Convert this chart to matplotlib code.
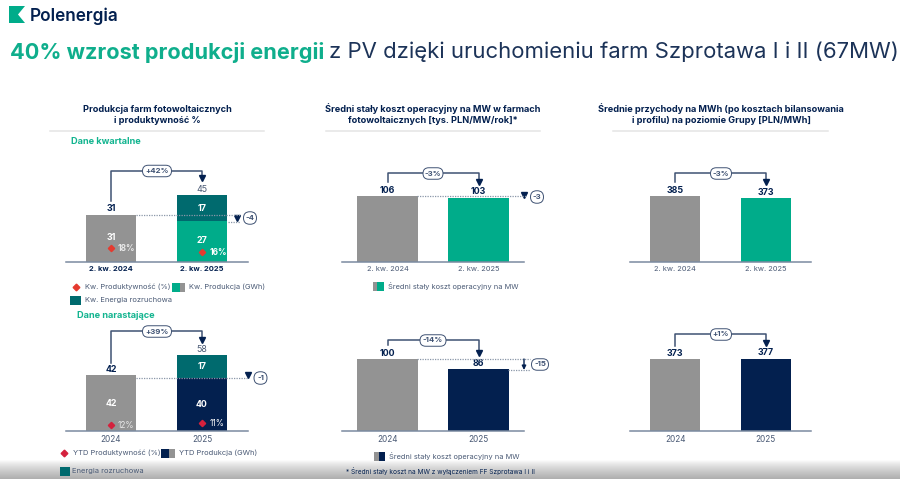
import numpy as np
import matplotlib
matplotlib.use("Agg")
import matplotlib.pyplot as plt
from matplotlib.patches import Rectangle, FancyBboxPatch, Polygon
from matplotlib.transforms import blended_transform_factory

plt.rcParams['font.family'] = ['Inter', 'DejaVu Sans']

GREEN = "#00ac8a"
TEAL = "#006a6e"
NAVY = "#03204f"
GRAY = "#939393"
LINE = "#3f5273"
TEXT = "#4a5a75"

# values
labels_q = ["2. kw. 2024", "2. kw. 2025"]
labels_y = ["2024", "2025"]
prod_q_base = [31, 27]
prod_q_start = [0, 17]
prod_q_total = [31, 45]
prod_y_base = [42, 40]
prod_y_start = [0, 17]
prod_y_total = [42, 58]
cost_q = [106, 103]
cost_y = [100, 86]
rev_q = [385, 373]
rev_y = [373, 377]

W, H = 900, 479
fig = plt.figure(figsize=(W / 100, H / 100), dpi=100)

# full figure layer in pixel coordinates for headings and legends
page = fig.add_axes([0, 0, 1, 1], zorder=5)
page.set_xlim(0, W)
page.set_ylim(H, 0)
page.axis("off")
page.patch.set_alpha(0)

# grey fade at the bottom of the screenshot
back = fig.add_axes([0, 0, 1, 1], zorder=0)
back.axis("off")
fade = 1 - 0.32 * np.linspace(0, 1, 100).reshape(-1, 1) ** 0.8
back.imshow(fade, extent=(0, W, 0, 19), cmap="gray", vmin=0, vmax=1, aspect="auto")
back.set_xlim(0, W)
back.set_ylim(0, H)


def panel(x0, x1, base, scale, top=130):
    # x: the two bars sit at 0 and 1, axis is 2 units plus a margin
    ax = fig.add_axes([x0 / W, 1 - base / H, (x1 - x0) / W, (base - top) / H], zorder=2)
    ax.set_ylim(0, (base - top) / scale)
    ax.set_xlim(-0.5, 1.5)
    ax.patch.set_alpha(0)
    for s in ["top", "left", "right"]:
        ax.spines[s].set_visible(False)
    ax.spines["bottom"].set_color("#7b8aa0")
    ax.spines["bottom"].set_linewidth(1.1)
    ax.set_yticks([])
    ax.set_xticks([0, 1])
    ax.tick_params(length=0, pad=3)
    return ax


def ticks(ax, names, bold=False, size=5.4):
    ax.set_xticklabels(names, fontsize=size, color=NAVY if bold else TEXT,
                       fontweight="bold" if bold else "normal")


def pill(x, y, w, h, txt, size=5.6):
    page.add_patch(FancyBboxPatch((x - w / 2, y - h / 2), w, h,
                                  boxstyle=f"round,pad=0,rounding_size={h / 2}", fc="white",
                                  ec=LINE, lw=0.7, zorder=6))
    page.text(x, y, txt, ha="center", va="center", fontsize=size, color=LINE,
              fontweight="bold", zorder=7)


def bracket(ax, y_start, y_top, y_arrow, pill_x, pill_w, txt):
    # x in bar units, y in page pixels
    tr = blended_transform_factory(ax.transData, page.transData)
    ax.plot([0, 0, 1, 1], [y_start, y_top, y_top, y_arrow - 4], transform=tr, color=LINE,
            lw=1.1, clip_on=False, solid_joinstyle="round", zorder=4)
    ax.plot([1], [y_arrow - 2], transform=tr, marker="v", ms=4.5, color=NAVY, clip_on=False, zorder=4)
    pill(pill_x, y_top + 0.5, pill_w, 11.5, txt)


def dots(x0, x1, y):
    page.plot([x0, x1], [y, y], color="#8a97a8", lw=0.9, ls=(0, (1, 1)), zorder=3)


def swatch(x0, x1, y, c1, c2=None, xm=None, h=9):
    page.add_patch(Rectangle((x0, y - h / 2), (xm or x1) - x0, h, fc=c1, ec="none"))
    if c2:
        page.add_patch(Rectangle((xm, y - h / 2), x1 - xm, h, fc=c2, ec="none"))


def leg_text(x, y, txt, size=5.4):
    page.text(x, y, txt, ha="left", va="center", fontsize=size, color=TEXT)


def val(ax, i, v, txt, bold=True, pad=1):
    ax.annotate(txt, (i, v), xytext=(0, pad), textcoords="offset points", ha="center", va="bottom",
                fontsize=6.4, color=NAVY if bold else TEXT, fontweight="bold" if bold else "normal",
                annotation_clip=False)


def inner(ax, i, y, txt):
    ax.text(i, y, txt, ha="center", va="center", fontsize=6.4, color="white", fontweight="bold", zorder=4)


# header
page.add_patch(Polygon([(9, 6), (25, 6), (18, 14.5), (25, 23), (9, 23)], fc="#00ac8a", ec="none"))
page.text(30, 16.5, "Polenergia", fontsize=12.4, fontweight="semibold", color=NAVY, va="center")
t1 = page.text(10, 52, "40% wzrost produkcji energii", fontsize=15.6, fontweight="bold", color="#0fae8c", va="center")
fig.canvas.draw()
ext = t1.get_window_extent()
page.text(ext.x1 + 5, 52, "z PV dzięki uruchomieniu farm Szprotawa I i II (67MW)", fontsize=15.9,
          color="#1c3358", va="center")

# column headings
heads = [(157, "Produkcja farm fotowoltaicznych", "i produktywność %", 50, 264),
         (433, "Średni stały koszt operacyjny na MW w farmach", "fotowoltaicznych [tys. PLN/MW/rok]*", 326, 540),
         (721, "Średnie przychody na MWh (po kosztach bilansowania", "i profilu) na poziomie Grupy [PLN/MWh]", 613, 828)]
for cx, l1, l2, a, b in heads:
    page.text(cx, 109, l1, ha="center", va="center", fontsize=6.6, fontweight="bold", color=NAVY)
    page.text(cx, 120, l2, ha="center", va="center", fontsize=6.6, fontweight="bold", color=NAVY)
    page.plot([a, b], [131, 131], color="#e4e4e4", lw=1.1)

page.text(71, 141, "Dane kwartalne", fontsize=6.6, fontweight="bold", color="#12b48f", va="center")
page.text(77, 316, "Dane narastające", fontsize=6.6, fontweight="bold", color="#12b48f", va="center")

# production, quarterly
ax = panel(65.5, 247.5, 262, 1.52)
ax.bar([0, 1], prod_q_base, width=0.55, color=[GRAY, GREEN])
ax.bar([1], prod_q_start[1], bottom=prod_q_base[1], width=0.55, color=TEAL)
ticks(ax, labels_q, bold=True)
val(ax, 0, prod_q_base[0], str(prod_q_total[0]))
val(ax, 1, prod_q_base[1] + prod_q_start[1], str(prod_q_total[1]), bold=False)
inner(ax, 0, 16, str(prod_q_base[0]))
inner(ax, 1, 14, str(prod_q_base[1]))
inner(ax, 1, prod_q_base[1] + prod_q_start[1] / 2, str(prod_q_start[1]))
ax.plot([0, 1], [9.2, 6.6], ls="none", marker="D", ms=3.2, color="#e53a2f", zorder=4)
page.text(126, 248, "18%", color="#e8e8e8", fontsize=6, fontweight="bold", ha="center", va="center")
page.text(218, 252, "16%", color="white", fontsize=6, fontweight="bold", ha="center", va="center")
bracket(ax, 201, 170.5, 180, 157, 29, "+42%")
dots(136, 240, 215)
dots(228, 240, 221.5)
page.plot([237], [217.5], marker="v", ms=4.5, color=NAVY)
pill(250, 218, 13, 12.5, "-4")
page.plot([76], [287], marker="D", ms=3.4, color="#e53a2f")
leg_text(85, 287, "Kw. Produktywność (%)")
swatch(172, 185, 287, GREEN, GRAY, 180)
leg_text(189, 287, "Kw. Produkcja (GWh)")
swatch(70, 81, 300, TEAL)
leg_text(85, 300, "Kw. Energia rozruchowa")

# production, cumulative
ax = panel(65.5, 247.5, 431, 1.33, top=300)
ax.bar([0, 1], prod_y_base, width=0.55, color=[GRAY, NAVY])
ax.bar([1], prod_y_start[1], bottom=prod_y_base[1], width=0.55, color=TEAL)
ticks(ax, labels_y, size=5.9)
val(ax, 0, prod_y_base[0], str(prod_y_total[0]))
val(ax, 1, prod_y_base[1] + prod_y_start[1], str(prod_y_total[1]), bold=False)
inner(ax, 0, 21, str(prod_y_base[0]))
inner(ax, 1, 20, str(prod_y_base[1]))
inner(ax, 1, prod_y_base[1] + prod_y_start[1] / 2, str(prod_y_start[1]))
ax.plot([0, 1], [4.7, 6], ls="none", marker="D", ms=3.2, color="#d4213d", zorder=4)
page.text(126, 425, "12%", color="#e8e8e8", fontsize=6, ha="center", va="center")
page.text(217, 423, "11%", color="white", fontsize=6, ha="center", va="center")
bracket(ax, 363, 331, 342, 157, 29, "+39%")
dots(136, 248, 377.5)
page.plot([247.5], [375], marker="v", ms=4.5, color=NAVY)
pill(260.5, 378, 13, 12.5, "-1")
page.plot([64], [453], marker="D", ms=3.4, color="#d4213d")
leg_text(73, 453, "YTD Produktywność (%)")
swatch(161, 175, 453, NAVY, GRAY, 169)
leg_text(179, 453, "YTD Produkcja (GWh)")
swatch(60, 70, 471, TEAL)
leg_text(72, 471, "Energia rozruchowa")

# fixed cost, quarterly
ax = panel(342, 524, 262, 66 / cost_q[0])
ax.bar([0, 1], cost_q, width=0.66, color=[GRAY, GREEN])
ticks(ax, labels_q)
val(ax, 0, cost_q[0], str(cost_q[0]))
val(ax, 1, cost_q[1], str(cost_q[1]))
bracket(ax, 182, 173, 184, 433, 20, "-3%")
dots(417, 526, 196)
page.plot([524], [195], marker="v", ms=4.5, color=NAVY)
pill(537, 197, 13, 12.5, "-3")
swatch(373, 384, 286, GRAY, GREEN, 377)
leg_text(388, 286, "Średni stały koszt operacyjny na MW", size=5.3)

# fixed cost, cumulative
ax = panel(342, 524, 431, 72 / cost_y[0], top=300)
ax.bar([0, 1], cost_y, width=0.66, color=[GRAY, NAVY])
ticks(ax, labels_y, size=5.9)
val(ax, 0, cost_y[0], str(cost_y[0]))
val(ax, 1, cost_y[1], str(cost_y[1]))
bracket(ax, 345, 340, 355, 433, 26, "-14%")
dots(417, 530, 359)
dots(508, 530, 370)
page.annotate("", xy=(524, 370), xytext=(524, 359), arrowprops=dict(arrowstyle="-|>", color=NAVY, lw=1, mutation_scale=6, shrinkA=0, shrinkB=0))
pill(540, 364.5, 17, 11.5, "-15")
swatch(374, 385, 456, GRAY, NAVY, 379)
leg_text(389, 456, "Średni stały koszt operacyjny na MW", size=5.3)
page.text(346, 471, "* Średni stały koszt na MW z wyłączeniem FF Szprotawa I i II", fontsize=4.7, color=NAVY, va="center")

# revenue, quarterly
ax = panel(630, 811, 262, 66 / rev_q[0])
ax.bar([0, 1], rev_q, width=0.55, color=[GRAY, GREEN])
ticks(ax, labels_q)
val(ax, 0, rev_q[0], str(rev_q[0]))
val(ax, 1, rev_q[1], str(rev_q[1]))
bracket(ax, 182, 173, 184, 721, 21, "-3%")

# revenue, cumulative
ax = panel(630, 811, 431, 72 / 375, top=300)
ax.bar([0, 1], rev_y, width=0.55, color=[GRAY, NAVY])
ticks(ax, labels_y, size=5.9)
val(ax, 0, rev_y[0], str(rev_y[0]))
val(ax, 1, rev_y[1], str(rev_y[1]))
bracket(ax, 346, 334, 345, 721, 21, "+1%")

fig.savefig("out.png", dpi=100, facecolor="white")
